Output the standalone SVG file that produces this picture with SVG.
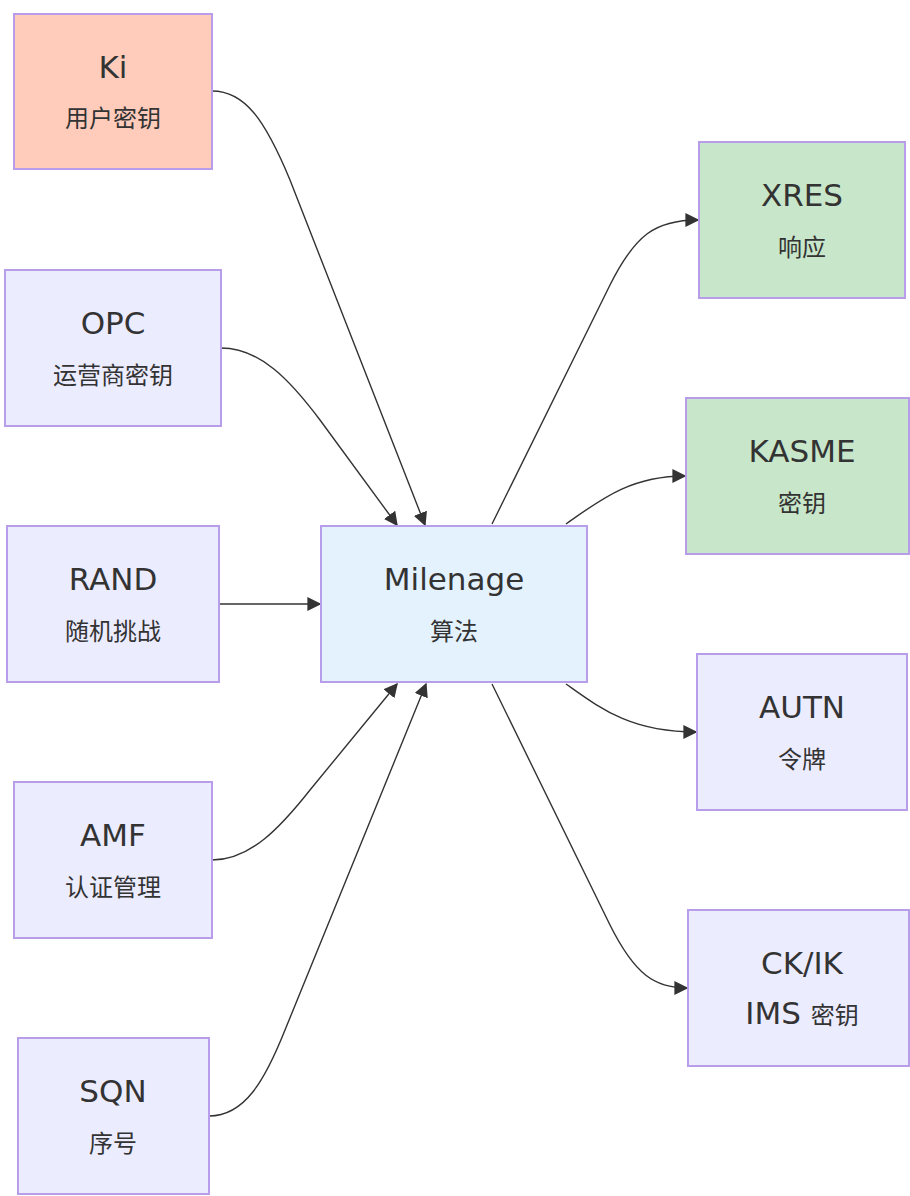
<svg xmlns="http://www.w3.org/2000/svg" width="910" height="1196" viewBox="0 0 910 1196">
<defs>
<style>
.node rect{stroke:#b89deb;stroke-width:2}
.def rect{fill:#ececff}
.key rect{fill:#ffccbc}
.out rect{fill:#c8e6c9}
.alg rect{fill:#e3f2fd}
text{font-family:"DejaVu Sans","Noto Sans CJK SC",sans-serif;font-size:31px;fill:#333;text-anchor:middle}
.cjk{font-size:24px;font-family:"Noto Sans CJK SC","DejaVu Sans",sans-serif}
.edge{fill:none;stroke:#333;stroke-width:1.4}
</style>
<marker id="arr" viewBox="0 0 10 10" refX="9" refY="5" markerWidth="14" markerHeight="14" markerUnits="userSpaceOnUse" orient="auto">
<path d="M0,0 L10,5 L0,10 z" fill="#333"/>
</marker>
</defs>
<g id="edges">
<path class="edge" marker-end="url(#arr)" d="M212,91 C245,91 265,120 290,180 L425,525"/>
<path class="edge" marker-end="url(#arr)" d="M221,348 C260,348 290,380 320,420 L397,525"/>
<path class="edge" marker-end="url(#arr)" d="M219,604 L320,604"/>
<path class="edge" marker-end="url(#arr)" d="M212,860 C250,860 280,828 310,790 L397,684"/>
<path class="edge" marker-end="url(#arr)" d="M209,1116 C245,1116 265,1080 285,1030 L426,684"/>
<path class="edge" marker-end="url(#arr)" d="M492,524 L610,285 C635,235 655,220 698,220"/>
<path class="edge" marker-end="url(#arr)" d="M566,524 C600,500 630,476 685,476"/>
<path class="edge" marker-end="url(#arr)" d="M566,684 C600,708 630,732 696,732"/>
<path class="edge" marker-end="url(#arr)" d="M492,684 L610,925 C635,975 655,988 687,988"/>
</g>
<g id="Ki" class="node key"><rect x="14" y="14" width="198" height="155"/><text x="113" y="78">Ki</text><text class="cjk" x="113" y="127">用户密钥</text></g>
<g id="OPC" class="node def"><rect x="5" y="270" width="216" height="156"/><text x="113" y="334">OPC</text><text class="cjk" x="113" y="384">运营商密钥</text></g>
<g id="RAND" class="node def"><rect x="7" y="526" width="212" height="156"/><text x="113" y="590">RAND</text><text class="cjk" x="113" y="640">随机挑战</text></g>
<g id="AMF" class="node def"><rect x="14" y="782" width="198" height="156"/><text x="113" y="846">AMF</text><text class="cjk" x="113" y="896">认证管理</text></g>
<g id="SQN" class="node def"><rect x="18" y="1038" width="191" height="156"/><text x="113" y="1102">SQN</text><text class="cjk" x="113" y="1152">序号</text></g>
<g id="Milenage" class="node alg"><rect x="321" y="526" width="266" height="156"/><text x="454" y="590">Milenage</text><text class="cjk" x="454" y="640">算法</text></g>
<g id="XRES" class="node out"><rect x="699" y="142" width="206" height="156"/><text x="802" y="206">XRES</text><text class="cjk" x="802" y="256">响应</text></g>
<g id="KASME" class="node out"><rect x="686" y="398" width="223" height="156"/><text x="802" y="462">KASME</text><text class="cjk" x="802" y="512">密钥</text></g>
<g id="AUTN" class="node def"><rect x="697" y="654" width="210" height="156"/><text x="802" y="718">AUTN</text><text class="cjk" x="802" y="768">令牌</text></g>
<g id="CKIK" class="node def"><rect x="688" y="910" width="221" height="156"/><text x="802" y="974">CK/IK</text><text x="802" y="1024">IMS <tspan class="cjk">密钥</tspan></text></g>
</svg>
